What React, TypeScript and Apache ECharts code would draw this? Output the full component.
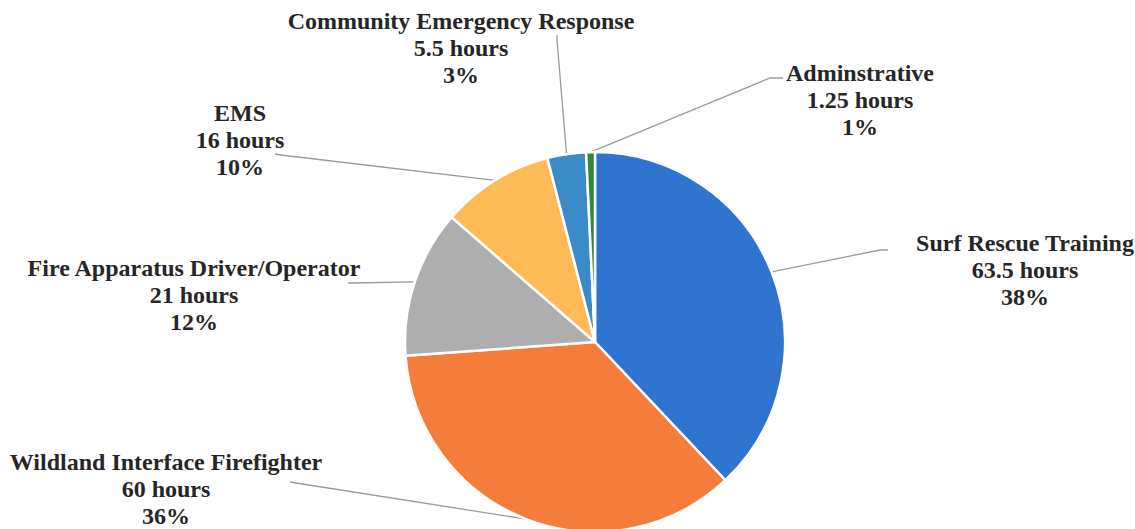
import React, { useEffect, useRef } from "react";
import * as echarts from "echarts";

const categories = [
  "Surf Rescue Training",
  "Wildland Interface Firefighter",
  "Fire Apparatus Driver/Operator",
  "EMS",
  "Community Emergency Response",
  "Adminstrative",
];
const hours = [63.5, 60, 21, 16, 5.5, 1.25];
const percentLabels = ["38%", "36%", "12%", "10%", "3%", "1%"];
const colors = ["#2F75CF", "#F47D3C", "#AEAEAE", "#FDBA57", "#3A8BC8", "#2E8B3A"];
// label centre positions (layout only)
const labelPos = [
  [1025, 270],
  [166, 489],
  [194, 295],
  [240, 140],
  [461, 48],
  [860, 100],
];
// where each leader line ends near its label (layout only): [bend, end]
const leaderEnds = [
  [[880, 250], [888, 250]],
  [[296, 483], [290, 482]],
  [[354, 283], [348, 283]],
  [[281, 155], [275, 154]],
  [[557, 40], [557, 35]],
  [[770, 78], [783, 78]],
];

export default function App() {
  const ref = useRef<HTMLDivElement>(null);
  useEffect(() => {
    document.body.style.margin = "0";
    const chart = echarts.init(ref.current!, undefined, { renderer: "svg" });
    chart.setOption({
      animation: false,
      backgroundColor: "#ffffff",
      textStyle: { fontFamily: "serif" },
      series: [
        {
          type: "pie",
          center: [595, 342],
          radius: 190,
          startAngle: 90,
          clockwise: true,
          avoidLabelOverlap: false,
          itemStyle: { borderColor: "#ffffff", borderWidth: 2.5 },
          data: categories.map((name, i) => ({
            name,
            value: hours[i],
            itemStyle: { color: colors[i] },
          })),
          label: {
            show: true,
            position: "outside",
            formatter: (p: any) =>
              `${p.name}\n${hours[p.dataIndex]} hours\n${percentLabels[p.dataIndex]}`,
            fontFamily: "'Times New Roman', 'Liberation Serif', serif",
            fontWeight: "bold",
            fontSize: 24,
            lineHeight: 27,
            color: "#262626",
            align: "center",
          },
          labelLine: {
            show: true,
            length: 20,
            length2: 20,
            lineStyle: { color: "#9a9a9a", width: 1.3 },
          },
          labelLayout: (params: any) => {
            const i = params.dataIndex;
            const pos = labelPos[i];
            const out: any = {
              x: pos[0],
              y: pos[1],
              align: "center",
              verticalAlign: "middle",
            };
            if (params.labelLinePoints && params.labelLinePoints[0]) {
              const start = params.labelLinePoints[0];
              out.labelLinePoints = [
                [start[0], start[1]],
                leaderEnds[i][0],
                leaderEnds[i][1],
              ];
            }
            return out;
          },
        },
      ],
    });
    return () => chart.dispose();
  }, []);
  return <div ref={ref} style={{ width: 1135, height: 529 }} />;
}
